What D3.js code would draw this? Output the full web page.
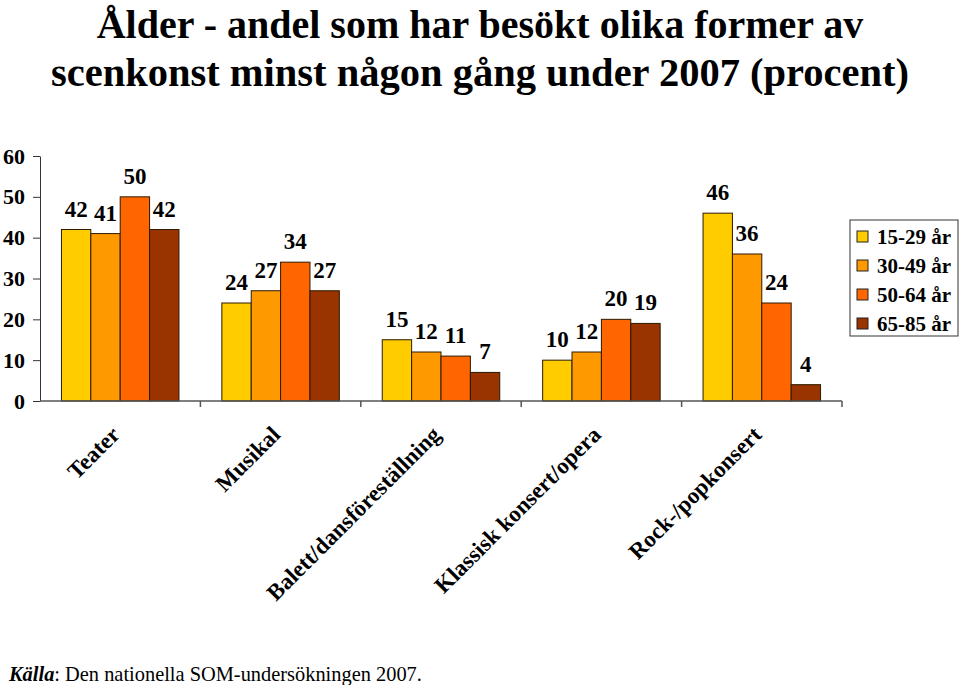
<!DOCTYPE html>
<html><head><meta charset="utf-8">
<script src="https://cdn.jsdelivr.net/npm/d3@7"></script>
<style>
body{margin:0;background:#fff;}
svg{display:block;font-family:"Liberation Serif","Times New Roman",serif;}
</style></head>
<body><svg id="c" width="960" height="685"></svg>
<script>
const categories = ["Teater","Musikal","Balett/dansföreställning","Klassisk konsert/opera","Rock-/popkonsert"];
const seriesNames = ["15-29 år","30-49 år","50-64 år","65-85 år"];
const s1529 = [42,24,15,10,46];
const s3049 = [41,27,12,12,36];
const s5064 = [50,34,11,20,24];
const s6585 = [42,27,7,19,4];
const seriesValues = [s1529,s3049,s5064,s6585];
const yTicks = [0,10,20,30,40,50,60];
const colors = ["#FFCC00","#FF9900","#FF6600","#993300"];
const titleLines = ["Ålder - andel som har besökt olika former av","scenkonst minst någon gång under 2007 (procent)"];

const svg = d3.select("#c");
const x0 = 40, x1 = 842, yTop = 156, yBot = 401;
const x = d3.scaleBand().domain(categories).range([x0,x1]).paddingInner(0).paddingOuter(0);
const xs = d3.scaleBand().domain(seriesNames).range([0,x.bandwidth()]).paddingInner(0).paddingOuter(0.73);
const y = d3.scaleLinear().domain([0,60]).range([yBot,yTop]);

// title
svg.append("g").selectAll("text").data(titleLines).join("text")
  .attr("x",480).attr("y",(d,i)=>38+i*48)
  .attr("text-anchor","middle").attr("font-weight","bold").attr("font-size",d=>d===titleLines[1]?40.5:40)
  .text(d=>d);

// y axis
const ya = svg.append("g").attr("transform",`translate(${x0},0)`)
  .call(d3.axisLeft(y).tickValues(yTicks).tickSize(7).tickSizeOuter(0).tickPadding(8));
ya.attr("font-family",null);
ya.select(".domain").attr("stroke","#333");
ya.selectAll(".tick line").attr("stroke","#333");
ya.selectAll("text").attr("font-family","Liberation Serif").attr("font-weight","bold").attr("font-size",22).attr("fill","#000");

// bars
const data = [];
categories.forEach((c,ci)=>seriesNames.forEach((s,si)=>data.push({c,s,si,v:seriesValues[si][ci]})));
svg.append("g").selectAll("rect").data(data).join("rect")
  .attr("x",d=>x(d.c)+xs(d.s)).attr("width",xs.bandwidth())
  .attr("y",d=>y(d.v)).attr("height",d=>yBot-y(d.v))
  .attr("fill",d=>colors[d.si]).attr("stroke","#2a1a00").attr("stroke-width",1);

// value labels
svg.append("g").selectAll("text").data(data).join("text")
  .attr("x",d=>x(d.c)+xs(d.s)+xs.bandwidth()/2).attr("y",d=>y(d.v)-13)
  .attr("text-anchor","middle").attr("font-weight","bold").attr("font-size",23)
  .text(d=>d.v);

// x axis
const xa = svg.append("g").attr("transform",`translate(0,${yBot})`);
xa.append("line").attr("x1",x0).attr("x2",x1).attr("stroke","#555").attr("stroke-width",1.5);
const bounds = categories.map(c=>x(c)).concat([x1]);
xa.selectAll("line.t").data(bounds.slice(1)).join("line").attr("class","t")
  .attr("x1",d=>d).attr("x2",d=>d).attr("y1",0).attr("y2",6).attr("stroke","#555").attr("stroke-width",1.5);
svg.append("g").selectAll("text").data(categories).join("text")
  .attr("transform",d=>`translate(${x(d)+x.bandwidth()/2+1},${yBot+35}) rotate(-45)`)
  .attr("text-anchor","end").attr("font-weight","bold").attr("font-size",23)
  .text(d=>d);

// legend
const lg = svg.append("g").attr("transform","translate(850,220)");
lg.append("rect").attr("width",108).attr("height",116).attr("fill","#fff").attr("stroke","#333");
const li = lg.selectAll("g").data(seriesNames).join("g").attr("transform",(d,i)=>`translate(0,${17+i*29})`);
li.append("rect").attr("x",7).attr("y",-6).attr("width",11).attr("height",11)
  .attr("fill",(d,i)=>colors[i]).attr("stroke","#222");
li.append("text").attr("x",27).attr("y",7).attr("font-weight","bold").attr("font-size",21).text(d=>d);

// source
const src = svg.append("text").attr("x",9).attr("y",681).attr("font-size",20.4);
src.append("tspan").attr("font-weight","bold").attr("font-style","italic").text("Källa");
src.append("tspan").text(": Den nationella SOM-undersökningen 2007.");
</script></body></html>
